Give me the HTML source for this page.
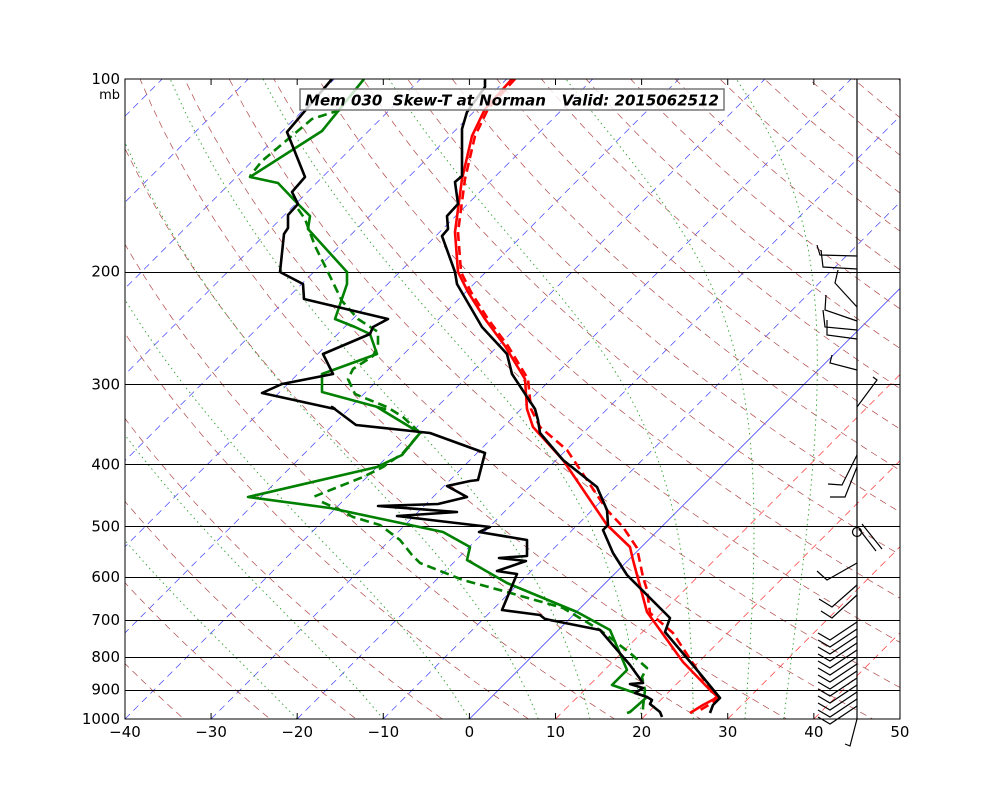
<!DOCTYPE html>
<html><head><meta charset="utf-8">
<style>
html,body{margin:0;padding:0;background:#fff;}
svg{display:block;font-family:"DejaVu Sans","Liberation Sans",sans-serif;}
</style></head>
<body>
<svg id="s" width="1000" height="800" viewBox="0 0 1000 800" xmlns="http://www.w3.org/2000/svg">
<defs><clipPath id="c"><rect x="125" y="79" width="775" height="640"/></clipPath></defs>
<rect width="1000" height="800" fill="#fff"/>
<g id="bg" clip-path="url(#c)"></g>
<g id="hl"></g>
<g id="tr" clip-path="url(#c)" fill="none" stroke-linejoin="round"></g>
<g id="wb" stroke="#000" stroke-width="1.2" fill="none"></g>
<rect x="125" y="79" width="775" height="640" fill="none" stroke="#000" stroke-width="1"/>
<line x1="857" y1="79" x2="857" y2="719" stroke="#000" stroke-width="1.2"/>
<g id="ax" font-size="15" fill="#000"></g>
<rect x="300" y="89" width="424" height="21" fill="#fff" fill-opacity="0.8" stroke="#777" stroke-width="1.5"/>
<text x="512" y="105.5" font-size="15.5" font-weight="bold" font-style="italic" text-anchor="middle" textLength="414" lengthAdjust="spacingAndGlyphs" xml:space="preserve">Mem 030  Skew-T at Norman   Valid: 2015062512</text>
</svg>
<script>
var NS="http://www.w3.org/2000/svg";
function yp(p){return 719-Math.log10(1000/p)*640.0/1;}
function xt(T,p){return 469.4+8.611*T+(719-yp(p));}
function el(g,n,a){var e=document.createElementNS(NS,n);for(var k in a)e.setAttribute(k,a[k]);document.getElementById(g).appendChild(e);return e;}
function pl(g,pts,a){a.points=pts.map(function(q){return q[0].toFixed(1)+","+q[1].toFixed(1)}).join(" ");return el(g,"polyline",a);}
for(var T=-140;T<=50;T+=10){
 var c=T<=0?"#4040ff":"#ff3030";
 var a={x1:xt(T,1000),y1:719,x2:xt(T,100),y2:79,stroke:c,"stroke-width":T==0?0.8:0.7};
 if(T!=0)a["stroke-dasharray"]="7,5";
 el("bg","line",a);
}
for(var th=200;th<=560;th+=10){
 var pts=[];for(var p=1050;p>=95;p-=10){pts.push([xt(th*Math.pow(p/1000,0.2857)-273.15,p),yp(p)]);}
 pl("bg",pts,{fill:"none",stroke:"#b04848","stroke-width":0.7,"stroke-dasharray":"7,5"});
}
function es(Tc){return 6.112*Math.exp(17.67*Tc/(Tc+243.5));}
[-20,-10,0,8,14,20,26,32,36.5].forEach(function(T0){
 var pts=[];var Tk=T0+273.15,p=1000;pts.push([xt(Tk-273.15,p),yp(p)]);
 while(p>100){var dp=-5;var e=es(Tk-273.15),rs=0.622*e/(p-e);
  var d=(287*Tk+2.5e6*rs)/(1004+2.5e6*2.5e6*rs*0.622/(287*Tk*Tk))/p;Tk+=d*dp;p+=dp;pts.push([xt(Tk-273.15,p),yp(p)]);}
 pl("bg",pts,{fill:"none",stroke:"#30a030","stroke-width":0.9,"stroke-dasharray":"1.5,3.5"});
});
[200,300,400,500,600,700,800,900].forEach(function(p){var y=Math.round(yp(p))+0.5;el("hl","line",{x1:125,y1:y,x2:900,y2:y,stroke:"#000","stroke-width":0.9});});
[100,200,300,400,500,600,700,800,900,1000].forEach(function(p){var t=el("ax","text",{x:120,y:yp(p)+5,"text-anchor":"end"});t.textContent=p;});
var m=el("ax","text",{x:120,y:99,"text-anchor":"end","font-size":"13"});m.textContent="mb";
for(var T=-40;T<=50;T+=10){var x=469.4+8.611*T;var t=el("ax","text",{x:x,y:737,"text-anchor":"middle"});t.textContent=(T<0?"\u2212"+(-T):T);
 el("ax","line",{x1:x,y1:719,x2:x,y2:713,stroke:"#000"});el("ax","line",{x1:x,y1:79,x2:x,y2:85,stroke:"#000"});}
var G="#008000";
pl("tr",[[364,79],[322,131],[250,177],[278,183],[298,204],[310,216],[308,229],[347,272],[347,284],[335,319],[355,327],[370,334],[377,354],[322,374],[322,392],[385,409],[377,407],[420,433],[402,455],[377,467],[248,497],[330,508],[443,532],[470,547],[467,560],[507,583],[577,612],[610,630],[627,670],[612,685],[647,697],[630,712],[627,713]],{stroke:G,"stroke-width":2.6});
pl("tr",[[340,110],[312,119],[262,161],[250,176]],{stroke:G,"stroke-width":2.6,"stroke-dasharray":"9,5"});
pl("tr",[[298,209],[305,219],[315,246],[325,266],[342,301],[358,319],[378,332],[378,346],[373,356],[353,369],[348,379],[355,394],[387,407],[403,417],[420,433],[403,453],[383,467],[363,477],[313,497]],{stroke:G,"stroke-width":2.6,"stroke-dasharray":"9,5"});
pl("tr",[[322,502],[340,510],[353,517],[380,525],[400,540],[412,555],[420,563],[463,580],[507,592],[563,608],[600,630],[630,653],[647,668],[642,677],[645,690],[643,707],[643,712]],{stroke:G,"stroke-width":2.6,"stroke-dasharray":"9,5"});
pl("tr",[[512,79],[485,109],[472,136],[462,179],[455,232],[458,272],[468,292],[485,319],[505,346],[525,379],[527,409],[533,427],[563,460],[607,525],[630,547],[633,560],[647,612],[660,630],[683,662],[710,690],[718,697],[703,705],[690,713]],{stroke:"#ff0000","stroke-width":2.6});
pl("tr",[[515,79],[488,109],[475,136],[465,179],[458,232],[461,272],[471,292],[488,319],[508,346],[528,379],[531,409],[540,427],[567,450],[607,510],[623,527],[637,548],[643,577],[647,590],[650,613],[673,633],[717,700],[697,712]],{stroke:"#ff0000","stroke-width":2.6,"stroke-dasharray":"9,5"});
pl("tr",[[332,79],[287,132],[305,177],[292,192],[298,204],[288,215],[288,228],[284,234],[280,272],[303,284],[304,299],[388,319],[373,327],[370,334],[323,354],[333,374],[282,384],[262,393],[335,409],[332,407],[356,425],[430,433],[485,453],[478,480],[470,481],[447,486],[467,497],[438,504],[378,506],[457,512],[397,516],[490,527],[479,532],[527,540],[527,556],[499,558],[526,561],[497,571],[517,574],[502,610],[540,615],[545,619],[600,630],[630,665],[643,683],[630,684],[643,688],[635,693],[647,697],[652,700],[650,704],[660,712],[662,717]],{stroke:"#000","stroke-width":2.6});
pl("tr",[[485,79],[485,87],[467,112],[462,129],[462,176],[455,182],[458,204],[447,216],[448,229],[442,236],[455,272],[457,284],[482,327],[507,354],[512,374],[535,409],[538,420],[540,433],[563,460],[597,487],[607,510],[608,525],[603,530],[613,553],[627,575],[670,618],[665,632],[697,670],[720,698],[713,705],[710,713]],{stroke:"#000","stroke-width":2.6});
var B=[[[857,256],[820,255],[817,245]],[[857,269],[823,267],[821,250]],[[857,307],[835,283],[838,270]],[[857,321],[825,310],[826,295]],[[857,330],[825,327],[823,310]],[[857,339],[827,335],[827,320]],[[857,370],[830,363],[832,355]],[[857,407],[877,380],[873,377]],[[857,455],[842,485],[828,484]],[[857,467],[845,497],[830,497]],[[857,563],[827,580],[817,571]],[[857,585],[832,607],[819,599]],[[857,595],[832,618],[821,611]]];
for(var y=622;y<=712;y+=7){B.push([[857,y],[830,y+18],[818,y+11]]);}
B.push([[857,719],[850,746],[845,744]]);
B.forEach(function(b){pl("wb",b,{});});
el("wb","circle",{cx:857,cy:532,r:4.5});
pl("wb",[[862,524],[882,549]],{});pl("wb",[[859,529],[876,551]],{});
</script>
</body></html>
